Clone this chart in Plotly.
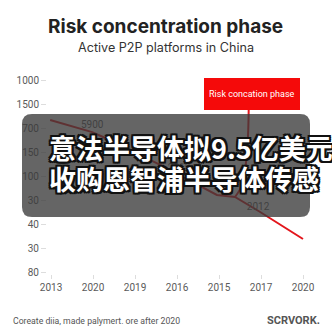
import plotly.graph_objects as go

# ---- data ----
x_tick_labels = ["2013", "2020", "2019", "2016", "2015", "2017", "2020"]
y_tick_labels = ["1000", "1500", "700", "150", "100", "30", "40", "30", "80"]

line_x = [-0.02, 0.98, 1.24, 2.6, 3.95, 4.38, 4.98, 6.0]
line_y = [1.67, 2.17, 2.375, 3.54, 4.79, 4.875, 5.5, 6.625]

spike_x = [4.71, 4.67, 4.55, 4.38]
spike_y = [0.83, 2.92, 4.375, 4.875]

point_labels = ["5900", "2012", "2012"]
point_label_x = [0.98, 3.05, 4.93]
point_label_y = [1.9, 3.7, 5.33]

title = "Risk concentration phase"
subtitle = "Active P2P platforms in China"
phase_label = "Risk concation phase"
caption_lines = ["意法半导体拟9.5亿美元", "收购恩智浦半导体传感"]
footer_left = "Coreate diia, made palymert. ore after 2020"
footer_right = "SCRVORK."

# ---- layout geometry (pixels) ----
W, H = 332, 332
L, R, T, B = 47, 25, 75, 58
PW, PH = W - L - R, H - T - B


def xp(px):
    return round((px - L) / PW, 5)


def yp(py):
    return round((H - B - py) / PH, 5)


RED = "#e3161c"
GRAY = "#5a5a5a"

fig = go.Figure()
fig.add_trace(go.Scatter(x=line_x, y=line_y, mode="lines",
                         line=dict(color=RED, width=2), hoverinfo="skip"))
fig.add_trace(go.Scatter(x=spike_x, y=spike_y, mode="lines",
                         line=dict(color=RED, width=2, shape="spline"), hoverinfo="skip"))
fig.add_trace(go.Scatter(x=point_label_x, y=point_label_y, mode="text",
                         text=point_labels, textfont=dict(family="Roboto", size=10, color=GRAY),
                         hoverinfo="skip"))


def pth(px, py):
    return f"{xp(px)},{yp(py)}"


x0, x1, y0, y1, r = 22, 310, 114, 217, 10
path_paper = (f"M {pth(x0 + r, y0)} L {pth(x1 - r, y0)} Q {pth(x1, y0)} {pth(x1, y0 + r)} "
              f"L {pth(x1, y1 - r)} Q {pth(x1, y1)} {pth(x1 - r, y1)} L {pth(x0 + r, y1)} "
              f"Q {pth(x0, y1)} {pth(x0, y1 - r)} L {pth(x0, y0 + r)} Q {pth(x0, y0)} {pth(x0 + r, y0)} Z")

shapes = [
    dict(type="rect", xref="paper", yref="paper", x0=xp(204), x1=xp(300), y0=yp(110), y1=yp(78),
         fillcolor="#f50a0a", line=dict(width=0), layer="above"),
    dict(type="path", xref="paper", yref="paper", path=path_paper,
         fillcolor="rgba(58,58,58,0.78)", line=dict(width=0), layer="above"),
]


def ann(text, x, y, size, color, family="Roboto", xanchor="center", **kw):
    return dict(text=text, x=xp(x), y=yp(y), xref="paper", yref="paper",
                xanchor=xanchor, yanchor="middle", showarrow=False,
                font=dict(family=family, size=size, color=color, **kw))


annotations = [
    ann(f"<b>{title}</b>", 166, 27, 19, "#222222", family="Inter"),
    ann(subtitle, 166, 47, 12.6, "#333333", family="Inter"),
    ann(phase_label, 252, 94, 9, "white"),
    ann(footer_left, 11, 321, 8.7, "#555555", xanchor="left"),
    ann(f"<b>{footer_right}</b>", 322, 321, 11, "#555555", xanchor="right"),
]

outline = ("-2px -2px 0 #111, 2px -2px 0 #111, -2px 2px 0 #111, 2px 2px 0 #111, "
           "0 2px 0 #111, 2px 0 0 #111, -2px 0 0 #111, 0 -2px 0 #111")
for i, line in enumerate(caption_lines):
    annotations.append(ann(f"<b>{line}</b>", 47, 147 + 32 * i, 27, "white",
                           family="Noto Sans CJK SC", xanchor="left", shadow=outline))

fig.update_layout(
    width=W, height=H, margin=dict(l=L, r=R, t=T, b=B),
    paper_bgcolor="white", plot_bgcolor="white", showlegend=False,
    shapes=shapes, annotations=annotations,
)

fig.update_xaxes(range=[-(51 - L) / 42, 6 + (W - R - 303) / 42],
                 tickvals=list(range(len(x_tick_labels))), ticktext=x_tick_labels,
                 showgrid=False, zeroline=False, showline=False,
                 ticks="outside", ticklen=4, tickcolor="#dddddd",
                 tickfont=dict(family="Roboto", size=10, color=GRAY))
fig.update_yaxes(range=[8 + (H - B - 272) / 24, -(80 - T) / 24],
                 tickvals=list(range(len(y_tick_labels))), ticktext=y_tick_labels,
                 showgrid=False, zeroline=False, showline=False,
                 ticks="outside", ticklen=5, tickcolor="#dddddd",
                 tickfont=dict(family="Roboto", size=10, color=GRAY))

fig.write_html("out.html")
